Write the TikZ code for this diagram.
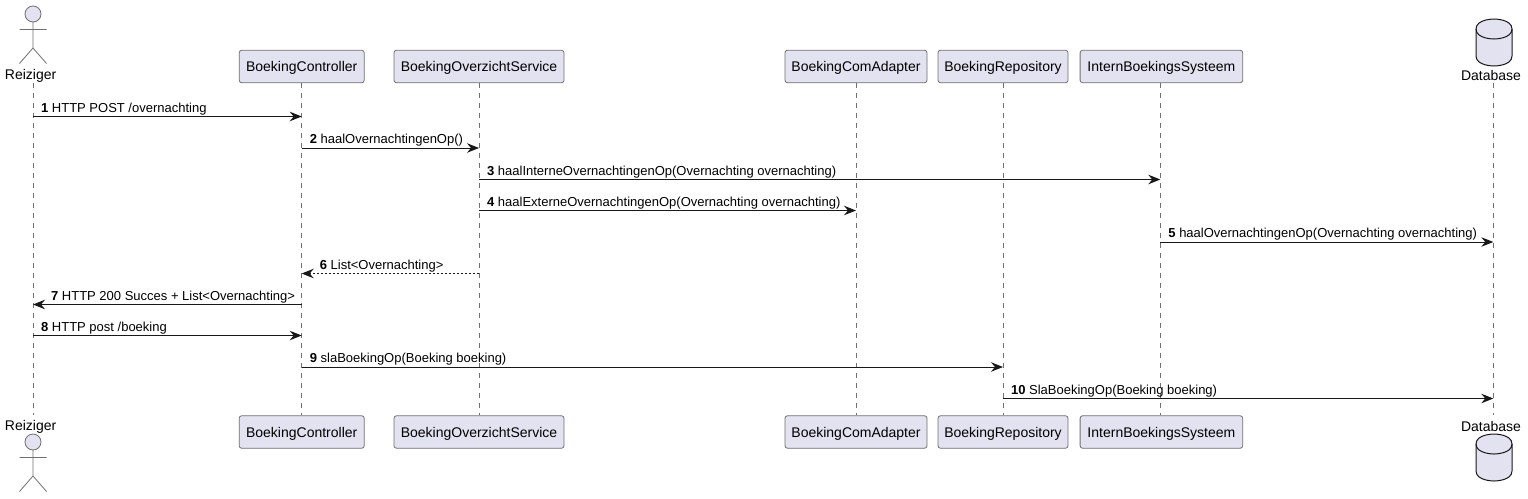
\documentclass[tikz,border=0pt]{standalone}
\usepackage{fontspec}
\setmainfont{Liberation Sans}
\usetikzlibrary{arrows.meta}
\definecolor{partfill}{HTML}{E2E2F0}
\definecolor{partline}{HTML}{181818}
\definecolor{thinline}{HTML}{707070}
\tikzset{
  part/.style={draw=thinline,fill=partfill,line width=0.8pt,rounded corners=2.5pt,minimum width=#1,minimum height=32.5pt,inner sep=0pt,text height=10pt,text depth=0pt,font=\fontsize{14}{16}\selectfont},
  partname/.style={inner sep=0pt,font=\fontsize{14}{16}\selectfont},
  lifeline/.style={draw=thinline,line width=0.7pt,dash pattern=on 5pt off 5pt},
  msg/.style={draw=partline,line width=1pt,-{Stealth[length=12pt,width=9.5pt,inset=4pt]}},
  msgback/.style={draw=partline,line width=1pt,{Stealth[length=12pt,width=9.5pt,inset=4pt]}-},
  msgtext/.style={anchor=base west,inner sep=0pt,xshift=7.6pt,yshift=4.5pt,font=\fontsize{13}{15}\selectfont},
  backtext/.style={msgtext,xshift=10pt},
  actorfig/.pic={
    \draw[draw=thinline,fill=partfill,line width=0.8pt] (0,0) circle (8);
    \draw[draw=thinline,line width=0.8pt] (0,8) -- (0,34) (-13.5,15.5) -- (13.5,15.5) (-13.5,49.5) -- (0,34) -- (13.5,49.5);
  },
  dbfig/.pic={
    \draw[draw=partline,fill=partfill,line width=1pt] (-18,10) .. controls (-18,0) and (0,0) .. (0,0) .. controls (0,0) and (18,0) .. (18,10) -- (18,37) .. controls (18,47) and (0,47) .. (0,47) .. controls (0,47) and (-18,47) .. (-18,37) -- cycle;
    \draw[draw=partline,line width=1pt] (-18,10) .. controls (-18,20) and (0,20) .. (0,20) .. controls (0,20) and (18,20) .. (18,10);
  }
}

\begin{document}
\begin{tikzpicture}[x=1pt,y=-1pt]
\useasboundingbox[fill=white] (0,0) rectangle (1528,498);

% top row
\pic at (33,14) {actorfig};
\node[partname] (reizigerName) at (30.6,76) {Reiziger};
\coordinate (reizigerTop) at (33,83);
\node[part=125pt] (controllerTop) at (301.7,66.5) {BoekingController};
\node[part=170pt] (overzichtTop) at (479,66.5) {BoekingOverzichtService};
\node[part=142pt] (adapterTop) at (856,66.5) {BoekingComAdapter};
\node[part=130pt] (repoTop) at (1003,66.5) {BoekingRepository};
\node[part=162.6pt] (internTop) at (1161.4,66.5) {InternBoekingsSysteem};
\pic at (1494,19) {dbfig};
\node[partname] (databaseName) at (1491,75.5) {Database};
\coordinate (databaseTop) at (1493.3,83);

% bottom row
\pic at (33,442) {actorfig};
\node[partname] (reizigerNameB) at (30.6,426.5) {Reiziger};
\coordinate (reizigerBot) at (33,415);
\node[part=125pt] (controllerBot) at (301.7,432) {BoekingController};
\node[part=170pt] (overzichtBot) at (479,432) {BoekingOverzichtService};
\node[part=142pt] (adapterBot) at (856,432) {BoekingComAdapter};
\node[part=130pt] (repoBot) at (1003,432) {BoekingRepository};
\node[part=162.6pt] (internBot) at (1161.4,432) {InternBoekingsSysteem};
\pic at (1494,434) {dbfig};
\node[partname] (databaseNameB) at (1491,426.5) {Database};
\coordinate (databaseBot) at (1493.3,415);
\coordinate (internLine) at (1160.3,0);

% lifelines
\draw[lifeline] (reizigerTop) -- (reizigerBot);
\draw[lifeline] (controllerTop) -- (controllerBot);
\draw[lifeline] (overzichtTop) -- (overzichtBot);
\draw[lifeline] (adapterTop) -- (adapterBot);
\draw[lifeline] (repoTop) -- (repoBot);
\draw[lifeline] (internLine |- internTop.south) -- (internLine |- internBot.north);
\draw[lifeline] (databaseTop) -- (databaseBot);

% messages
\foreach \rowname/\rowy in {r1/116.5,r2/148,r3/179.5,r4/210.5,r5/242,r6/273.5,r7/304.5,r8/335.5,r9/367,r10/398.5}
  \coordinate (\rowname) at (0,\rowy);
\draw[msg] (reizigerTop |- r1) -- node[at start,msgtext] (m1) {\textbf{1} HTTP POST /overnachting} (controllerTop |- r1);
\draw[msg] (controllerTop |- r2) -- node[at start,msgtext] (m2) {\textbf{2} haalOvernachtingenOp()} (overzichtTop |- r2);
\draw[msg] (overzichtTop |- r3) -- node[at start,msgtext] (m3) {\textbf{3} haalInterneOvernachtingenOp(Overnachting overnachting)} (internLine |- r3);
\draw[msg] (overzichtTop |- r4) -- node[at start,msgtext] (m4) {\textbf{4} haalExterneOvernachtingenOp(Overnachting overnachting)} (adapterTop |- r4);
\draw[msg] (internLine |- r5) -- node[at start,msgtext] (m5) {\textbf{5} haalOvernachtingenOp(Overnachting overnachting)} (databaseTop |- r5);
\draw[msgback,dash pattern=on 2pt off 2pt] (controllerTop |- r6) -- node[at start,backtext] (m6) {\textbf{6} List<Overnachting>} (overzichtTop |- r6);
\draw[msgback] (reizigerTop |- r7) -- node[at start,backtext] (m7) {\textbf{7} HTTP 200 Succes + List<Overnachting>} (controllerTop |- r7);
\draw[msg] (reizigerTop |- r8) -- node[at start,msgtext] (m8) {\textbf{8} HTTP post /boeking} (controllerTop |- r8);
\draw[msg] (controllerTop |- r9) -- node[at start,msgtext] (m9) {\textbf{9} slaBoekingOp(Boeking boeking)} (repoTop |- r9);
\draw[msg] (repoTop |- r10) -- node[at start,msgtext] (m10) {\textbf{10} SlaBoekingOp(Boeking boeking)} (databaseTop |- r10);
\end{tikzpicture}
\end{document}
